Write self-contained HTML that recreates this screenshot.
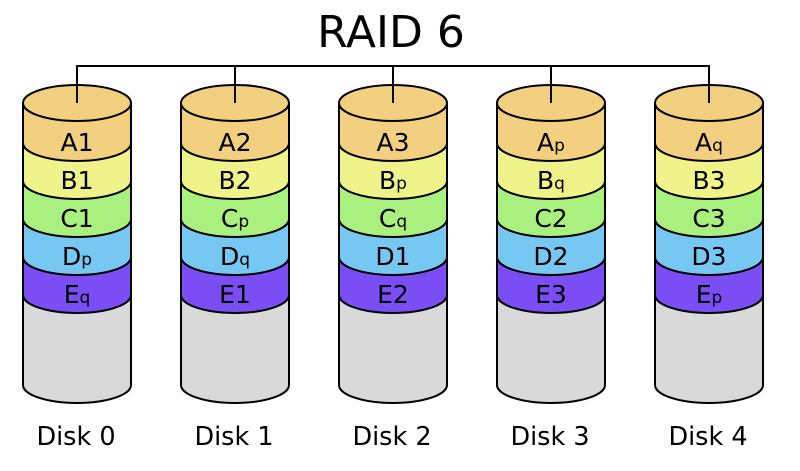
<!DOCTYPE html>
<html><head><meta charset="utf-8"><style>
html,body{margin:0;padding:0;background:#fff;}
svg{display:block;font-family:"DejaVu Sans","Liberation Sans",sans-serif;}
</style></head><body>
<svg width="800" height="471" viewBox="0 0 800 471" xmlns="http://www.w3.org/2000/svg">
<text x="391" y="47" font-size="44" text-anchor="middle" fill="#000">RAID 6</text>
<path d="M77 103 V66 H709 V103 M235 66 V103 M393 66 V103 M551 66 V103" fill="none" stroke="#000" stroke-width="2"/>
<defs>
<g id="cyl" stroke="#000" stroke-width="2">
<path d="M-54 295 V385 A54 18 0 0 0 54 385 V295 Z" fill="#d9d9d9"/>
<path d="M-54 257 V295 A54 18 0 0 0 54 295 V257 Z" fill="#7b4df5"/>
<path d="M-54 219 V257 A54 18 0 0 0 54 257 V219 Z" fill="#76c8f2"/>
<path d="M-54 181 V219 A54 18 0 0 0 54 219 V181 Z" fill="#a9f07e"/>
<path d="M-54 143 V181 A54 18 0 0 0 54 181 V143 Z" fill="#f0f38a"/>
<path d="M-54 103 V143 A54 18 0 0 0 54 143 V103 Z" fill="#f3cf80"/>
<ellipse cx="0" cy="103" rx="54" ry="18" fill="#f3cf80"/>
</g>
</defs>
<use href="#cyl" x="77"/><use href="#cyl" x="235"/><use href="#cyl" x="393"/><use href="#cyl" x="551"/><use href="#cyl" x="709"/>
<path d="M77 66 V103 M235 66 V103 M393 66 V103 M551 66 V103 M709 66 V103" fill="none" stroke="#000" stroke-width="2"/>
<g font-size="25" text-anchor="middle" fill="#000">
<text x="77" y="151">A1</text><text x="77" y="189">B1</text><text x="77" y="227">C1</text>
<text x="77" y="265">D<tspan font-size="17">p</tspan></text><text x="77" y="303">E<tspan font-size="17">q</tspan></text>
<text x="235" y="151">A2</text><text x="235" y="189">B2</text><text x="235" y="227">C<tspan font-size="17">p</tspan></text>
<text x="235" y="265">D<tspan font-size="17">q</tspan></text><text x="235" y="303">E1</text>
<text x="393" y="151">A3</text><text x="393" y="189">B<tspan font-size="17">p</tspan></text><text x="393" y="227">C<tspan font-size="17">q</tspan></text>
<text x="393" y="265">D1</text><text x="393" y="303">E2</text>
<text x="551" y="151">A<tspan font-size="17">p</tspan></text><text x="551" y="189">B<tspan font-size="17">q</tspan></text><text x="551" y="227">C2</text>
<text x="551" y="265">D2</text><text x="551" y="303">E3</text>
<text x="709" y="151">A<tspan font-size="17">q</tspan></text><text x="709" y="189">B3</text><text x="709" y="227">C3</text>
<text x="709" y="265">D3</text><text x="709" y="303">E<tspan font-size="17">p</tspan></text>
</g>
<g font-size="25.5" text-anchor="middle" fill="#000">
<text x="76" y="445">Disk 0</text><text x="234" y="445">Disk 1</text><text x="392" y="445">Disk 2</text><text x="550" y="445">Disk 3</text><text x="708" y="445">Disk 4</text>
</g>
</svg>
</body></html>
